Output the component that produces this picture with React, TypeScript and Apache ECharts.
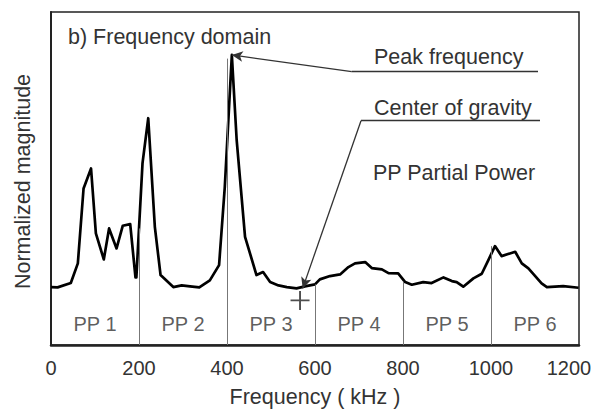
import React, { useEffect, useRef } from "react";
import * as echarts from "echarts";

// Spectrum curve (frequency in kHz, normalized magnitude 0-100)
const freqKHz = [
  0, 15, 45, 61, 74, 91, 102, 120, 132, 149, 163, 180, 192, 194, 208, 221,
  236, 249, 278, 297, 316, 337, 361, 382, 395, 411, 422, 441, 467, 482, 498,
  517, 536, 558, 577, 600, 611, 634, 657, 676, 691, 714, 729, 752, 767, 789,
  805, 820, 846, 865, 892, 911, 922, 937, 960, 979, 994, 1009, 1024, 1055,
  1070, 1085, 1115, 1127, 1164, 1199,
];
const magnitude = [
  17.4, 17.3, 18.6, 24.5, 47.0, 53.0, 33.5, 25.7, 35.0, 29.0, 35.8, 36.3,
  20.3, 20.3, 54.6, 68.1, 35.5, 21.0, 17.4, 17.9, 17.6, 17.3, 19.4, 24.0,
  47.5, 87.1, 61.5, 32.5, 21.0, 21.9, 18.9, 17.9, 17.4, 17.0, 17.6, 18.2,
  19.7, 20.7, 21.2, 23.4, 24.5, 24.9, 23.1, 22.7, 21.6, 21.5, 18.9, 18.1,
  18.9, 18.6, 20.3, 19.2, 18.9, 17.5, 20.0, 21.4, 25.5, 29.7, 26.7, 28.0,
  24.5, 23.0, 18.5, 17.4, 17.7, 17.2,
];

const xTicks = [0, 200, 400, 600, 800, 1000, 1200];
const ppNames = ["PP 1", "PP 2", "PP 3", "PP 4", "PP 5", "PP 6"];
const ppCenters = [100, 300, 500, 700, 900, 1100];
const ppLabelLevel = [6.4, 6.4, 6.4, 6.4, 6.4, 6.4];
const ppBoundaries = [200, 400, 600, 800, 1000];
const boundaryTops = [35, 86, 18.2, 19, 29.7];

const peakPoint = [411, 87.1];
const cogCurvePoint = [572, 17.0];
const cogMarker = [566, 13.4];

const FONT = "'Liberation Sans', Arial, Helvetica, sans-serif";
const TXT = "#333";
const BIG = 21.5;

export default function App() {
  const ref = useRef<HTMLDivElement>(null);

  useEffect(() => {
    if (!ref.current) return;
    const chart = echarts.init(ref.current, undefined, { renderer: "svg" });

    const curve = freqKHz.map((f, i) => [f, magnitude[i]]);
    const ppData = ppCenters.map((c, i) => [c, ppLabelLevel[i], ppNames[i]]);
    const dividers = ppBoundaries.map((b, i) => [
      { coord: [b, 0] },
      { coord: [b, boundaryTops[i]] },
    ]);
    const lastTick = xTicks[xTicks.length - 1];

    const plusPath = "path://M9,0h2v9h9v2h-9v9h-2v-9h-9v-2h9z";

    const annText = (text: string, x: number, y: number) => ({
      type: "text",
      x,
      y,
      style: {
        text,
        font: `${BIG}px ${FONT}`,
        fill: TXT,
        verticalAlign: "middle",
      },
    });

    chart.setOption({
      animation: false,
      grid: {
        left: 51,
        right: 17,
        top: 12,
        bottom: 65,
        outerBoundsMode: "none",
        containLabel: false,
        show: true,
        borderColor: "#222",
        borderWidth: 1.5,
        backgroundColor: "transparent",
      },
      xAxis: {
        type: "value",
        min: 0,
        max: 1200,
        interval: 200,
        name: "Frequency ( kHz )",
        nameLocation: "middle",
        nameGap: 41,
        nameTextStyle: { fontSize: BIG, color: TXT, fontFamily: FONT },
        axisLine: { show: true, onZero: false, lineStyle: { color: "#222", width: 2.5 } },
        axisTick: { show: false },
        splitLine: { show: false },
        axisLabel: {
          fontSize: 20,
          color: TXT,
          fontFamily: FONT,
          margin: 13,
          hideOverlap: false,
          formatter: (v: number) =>
            v === lastTick ? `{last|${v}}` : xTicks.includes(v) ? String(v) : "",
          rich: {
            last: {
              fontSize: 20,
              color: TXT,
              fontFamily: FONT,
              padding: [0, 20, 0, 0],
            },
          },
        },
      },
      yAxis: {
        type: "value",
        min: 0,
        max: 100,
        name: "Normalized magnitude",
        nameLocation: "middle",
        nameGap: 17,
        nameTextStyle: {
          fontSize: BIG,
          color: TXT,
          fontFamily: FONT,
          padding: [0, 6, 0, 0],
        },
        axisLine: { show: true, lineStyle: { color: "#222", width: 2 } },
        axisTick: { show: false },
        axisLabel: { show: false },
        splitLine: { show: false },
      },
      series: [
        {
          type: "line",
          name: "dividers",
          data: [],
          silent: true,
          markLine: {
            silent: true,
            symbol: ["none", "none"],
            label: { show: false },
            lineStyle: { color: "#777", width: 1, type: "solid" },
            emphasis: { disabled: true },
            data: dividers,
          },
        },
        {
          type: "line",
          name: "spectrum",
          data: curve,
          showSymbol: false,
          symbol: "none",
          lineStyle: { color: "#000", width: 2.7, join: "round" },
          silent: true,
          z: 3,
        },
        {
          type: "scatter",
          name: "pp",
          data: ppData,
          symbolSize: 0,
          silent: true,
          label: {
            show: true,
            position: "inside",
            formatter: (p: any) => p.data[2],
            fontSize: 20,
            color: TXT,
            fontFamily: FONT,
          },
        },
        {
          type: "scatter",
          name: "cog",
          data: [cogMarker],
          symbol: plusPath,
          symbolSize: [19, 19],
          itemStyle: { color: "#222" },
          silent: true,
          z: 4,
        },
        {
          type: "line",
          name: "annotations",
          data: [],
          silent: true,
          markLine: {
            silent: true,
            symbol: ["none", "none"],
            symbolSize: [8, 11],
            label: { show: false },
            lineStyle: { color: "#333", width: 1.3, type: "solid" },
            emphasis: { disabled: true },
            data: [
              [{ x: 538, y: 71.7 }, { x: 351.7, y: 71.7 }],
              [
                { x: 351.7, y: 71.7, symbol: "none" },
                { coord: peakPoint, symbol: "arrow" },
              ],
              [{ x: 540, y: 120.7 }, { x: 361, y: 120.7 }],
              [
                { x: 361, y: 120.7, symbol: "none" },
                { coord: cogCurvePoint, symbol: "arrow" },
              ],
            ],
          },
        },
      ],
      graphic: [
        annText("b) Frequency domain", 68, 37),
        annText("Peak frequency", 374, 57),
        annText("Center of gravity", 374, 108),
        annText("PP Partial Power", 373, 173),
      ],
    });

    return () => chart.dispose();
  }, []);

  return <div ref={ref} style={{ width: 596, height: 410, position: "absolute", left: 0, top: 0 }} />;
}
